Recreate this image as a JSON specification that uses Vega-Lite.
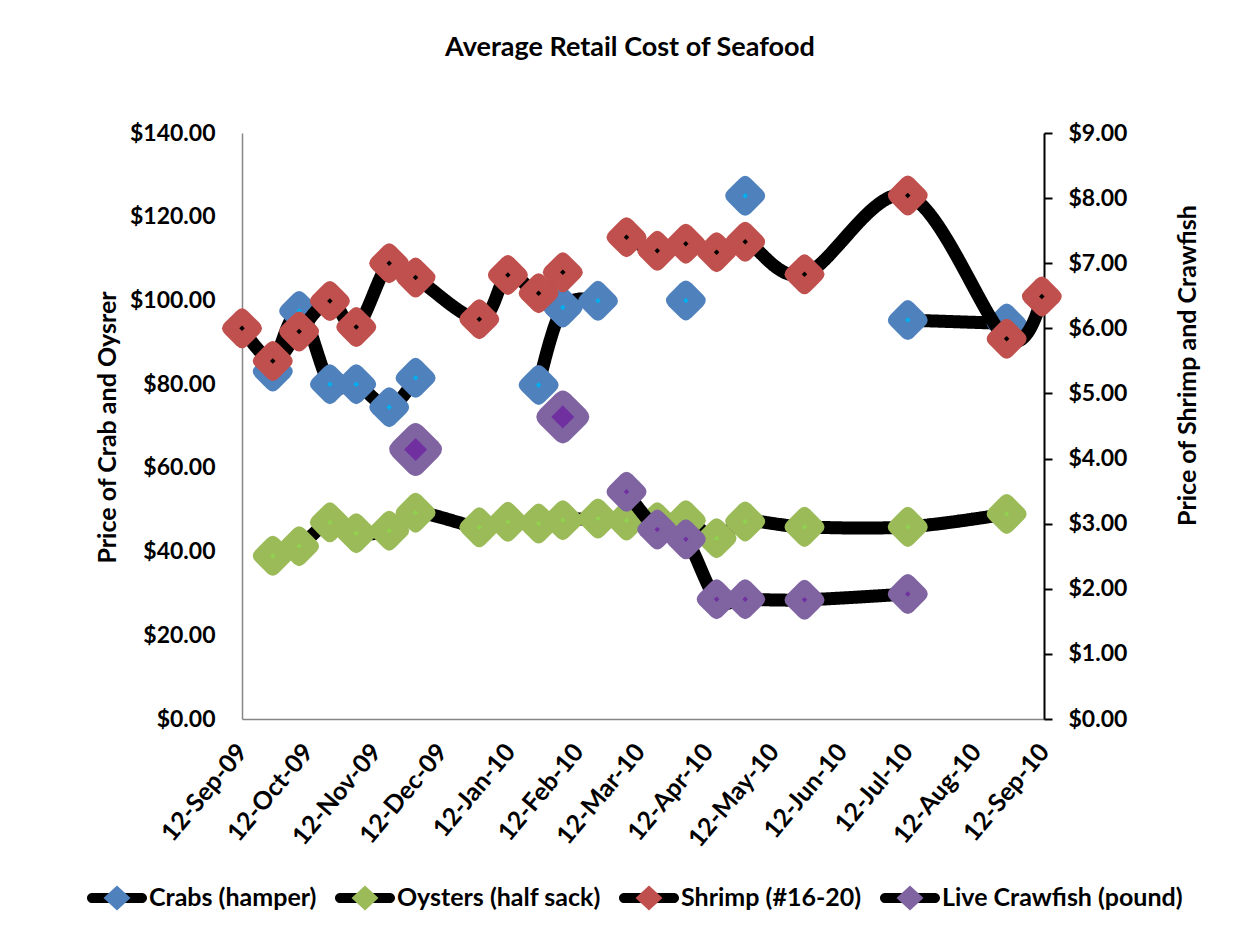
{
  "$schema": "https://vega.github.io/schema/vega-lite/v6.json",
  "width": 802,
  "height": 586,
  "autosize": {"type": "none"},
  "padding": {"left": 242, "top": 133, "right": 209, "bottom": 211},
  "background": "white",
  "config": {
    "font": "Lato",
    "view": {"stroke": null},
    "axis": {
      "grid": false,
      "labelFont": "Lato",
      "labelFontWeight": "bold",
      "labelFontSize": 23,
      "labelColor": "black",
      "titleFont": "Lato",
      "titleFontWeight": "bold",
      "titleFontSize": 25,
      "titleColor": "black"
    }
  },
  "title": {
    "text": "Average Retail Cost of Seafood",
    "font": "Lato",
    "fontSize": 27,
    "fontWeight": "bold",
    "color": "black",
    "anchor": "middle",
    "dx": -13,
    "offset": 60
  },
  "data": {
    "values": [
      {"date": "2009-09-12", "crabs": null, "oysters": null, "shrimp": 6.00, "crawfish": null},
      {"date": "2009-09-26", "crabs": 83.0, "oysters": 39.0, "shrimp": 5.50, "crawfish": null},
      {"date": "2009-10-08", "crabs": 97.5, "oysters": 41.3, "shrimp": 5.95, "crawfish": null},
      {"date": "2009-10-22", "crabs": 80.0, "oysters": 47.0, "shrimp": 6.42, "crawfish": null},
      {"date": "2009-11-03", "crabs": 80.0, "oysters": 44.4, "shrimp": 6.02, "crawfish": null},
      {"date": "2009-11-18", "crabs": 74.5, "oysters": 45.0, "shrimp": 7.00, "crawfish": null},
      {"date": "2009-11-30", "crabs": 81.5, "oysters": 49.3, "shrimp": 6.78, "crawfish": 4.14},
      {"date": "2009-12-29", "crabs": null, "oysters": 45.8, "shrimp": 6.14, "crawfish": null},
      {"date": "2010-01-11", "crabs": null, "oysters": 47.1, "shrimp": 6.82, "crawfish": null},
      {"date": "2010-01-25", "crabs": 79.8, "oysters": 46.7, "shrimp": 6.54, "crawfish": null},
      {"date": "2010-02-05", "crabs": 98.3, "oysters": 47.5, "shrimp": 6.86, "crawfish": 4.64},
      {"date": "2010-02-21", "crabs": 99.9, "oysters": 47.9, "shrimp": null, "crawfish": null},
      {"date": "2010-03-06", "crabs": null, "oysters": 47.4, "shrimp": 7.40, "crawfish": 3.49},
      {"date": "2010-03-20", "crabs": null, "oysters": 47.0, "shrimp": 7.19, "crawfish": 2.91},
      {"date": "2010-04-02", "crabs": 100.0, "oysters": 47.5, "shrimp": 7.30, "crawfish": 2.76},
      {"date": "2010-04-16", "crabs": null, "oysters": 43.2, "shrimp": 7.17, "crawfish": 1.84},
      {"date": "2010-04-29", "crabs": 125.0, "oysters": 47.2, "shrimp": 7.33, "crawfish": 1.84},
      {"date": "2010-05-26", "crabs": null, "oysters": 45.9, "shrimp": 6.83, "crawfish": 1.83},
      {"date": "2010-07-12", "crabs": 95.3, "oysters": 45.9, "shrimp": 8.04, "crawfish": 1.92},
      {"date": "2010-08-26", "crabs": 94.5, "oysters": 49.0, "shrimp": 5.84, "crawfish": null},
      {"date": "2010-09-11", "crabs": null, "oysters": null, "shrimp": 6.49, "crawfish": null}
    ]
  },
  "encoding": {
    "x": {
      "field": "date",
      "type": "temporal",
      "scale": {
        "type": "utc",
        "domain": [
          {"year": 2009, "month": 9, "date": 12, "utc": true},
          {"year": 2010, "month": 9, "date": 12, "utc": true}
        ]
      },
      "axis": {
        "title": null,
        "format": "%d-%b-%y",
        "values": [
          {"year": 2009, "month": 9, "date": 12, "utc": true},
          {"year": 2009, "month": 10, "date": 12, "utc": true},
          {"year": 2009, "month": 11, "date": 12, "utc": true},
          {"year": 2009, "month": 12, "date": 12, "utc": true},
          {"year": 2010, "month": 1, "date": 12, "utc": true},
          {"year": 2010, "month": 2, "date": 12, "utc": true},
          {"year": 2010, "month": 3, "date": 12, "utc": true},
          {"year": 2010, "month": 4, "date": 12, "utc": true},
          {"year": 2010, "month": 5, "date": 12, "utc": true},
          {"year": 2010, "month": 6, "date": 12, "utc": true},
          {"year": 2010, "month": 7, "date": 12, "utc": true},
          {"year": 2010, "month": 8, "date": 12, "utc": true},
          {"year": 2010, "month": 9, "date": 12, "utc": true}
        ],
        "labelAngle": -50,
        "labelAlign": "right",
        "labelBaseline": "middle",
        "labelPadding": 28,
        "labelFontSize": 25,
        "labelOverlap": false,
        "labelFlush": false,
        "labelBound": false,
        "ticks": false,
        "domainColor": "#868686",
        "domainWidth": 1.5
      }
    }
  },
  "layer": [
    {
      "transform": [{"fold": ["crabs", "oysters"], "as": ["series", "price"]}],
      "encoding": {
        "y": {
          "field": "price",
          "type": "quantitative",
          "scale": {"domain": [0, 140], "nice": false, "zero": true},
          "axis": {
            "orient": "left",
            "title": "Price of Crab and Oysrer",
            "titleX": -135,
            "titleY": 294,
            "titleAngle": -90,
            "titleAlign": "center",
            "titleBaseline": "middle",
            "values": [0, 20, 40, 60, 80, 100, 120, 140],
            "format": "$,.2f",
            "ticks": false,
            "labelPadding": 27,
            "domainColor": "#868686",
            "domainWidth": 1.5
          }
        }
      },
      "layer": [
        {
          "mark": {"type": "line", "color": "black", "strokeWidth": 13, "interpolate": "cardinal", "strokeCap": "round", "strokeJoin": "round", "invalid": "break-paths-filter-domains"},
          "encoding": {
            "strokeDash": {
              "field": "series",
              "type": "nominal",
              "scale": {"domain": ["crabs", "crawfish", "oysters", "shrimp"], "range": [[1, 0], [1, 0], [1, 0], [1, 0]]},
              "legend": {
                "orient": "none",
                "legendX": -155,
                "legendY": 735,
                "zindex": 1,
                "values": ["crabs", "oysters", "shrimp", "crawfish"],
                "direction": "horizontal",
                "columns": 4,
                "title": null,
                "symbolType": "M-0.83,-0.17L0.83,-0.17A0.17,0.17 0 0 1 0.83,0.17L-0.83,0.17A0.17,0.17 0 0 1 -0.83,-0.17ZM0,-0.42L0,-0.42M0,0.42L0,0.42",
                "symbolSize": 3600,
                "symbolStrokeWidth": 0,
                "symbolStrokeColor": "transparent",
                "symbolFillColor": "black",
                "labelFont": "Lato",
                "labelFontSize": 25,
                "labelFontWeight": "bold",
                "labelColor": "black",
                "labelLimit": 0,
                "labelOffset": 2,
                "columnPadding": 18,
                "labelExpr": "datum.label == 'crabs' ? 'Crabs (hamper)' : datum.label == 'oysters' ? 'Oysters (half sack)' : datum.label == 'shrimp' ? 'Shrimp (#16-20)' : 'Live Crawfish (pound)'"
              }
            }
          }
        },
        {
          "mark": {"type": "point", "filled": true, "opacity": 1, "invalid": "filter", "shape": "M-0.25,-0.75Q0,-1 0.25,-0.75L0.75,-0.25Q1,0 0.75,0.25L0.25,0.75Q0,1 -0.25,0.75L-0.75,0.25Q-1,0 -0.75,-0.25Z", "size": 2090},
          "encoding": {
            "color": {
              "field": "series",
              "type": "nominal",
              "scale": {"domain": ["crabs", "oysters", "shrimp", "crawfish"], "range": ["#4F81BD", "#9BBB59", "#C0504D", "#8064A2"]},
              "legend": {
                "orient": "none",
                "legendX": -155,
                "legendY": 735,
                "zindex": 2,
                "values": ["crabs", "oysters", "shrimp", "crawfish"],
                "direction": "horizontal",
                "columns": 4,
                "title": null,
                "symbolType": "M-1,0L-1,0M1,0L1,0M0,-0.42L0.45,0L0,0.42L-0.45,0Z",
                "symbolSize": 3600,
                "symbolStrokeWidth": 0,
                "symbolStrokeColor": "transparent",
                "labelFont": "Lato",
                "labelFontSize": 25,
                "labelFontWeight": "bold",
                "labelColor": "rgba(0,0,0,0)",
                "labelLimit": 0,
                "labelOffset": 2,
                "columnPadding": 18,
                "labelExpr": "datum.label == 'crabs' ? 'Crabs (hamper)' : datum.label == 'oysters' ? 'Oysters (half sack)' : datum.label == 'shrimp' ? 'Shrimp (#16-20)' : 'Live Crawfish (pound)'"
              }
            }
          }
        },
        {
          "mark": {"type": "point", "filled": true, "opacity": 1, "invalid": "filter", "shape": "diamond", "size": 30},
          "encoding": {
            "fill": {
              "field": "series",
              "type": "nominal",
              "scale": {"domain": ["crabs", "oysters", "shrimp", "crawfish"], "range": ["#00B0F0", "#92D050", "#000000", "#7030A0"]},
              "legend": null
            }
          }
        }
      ]
    },
    {
      "transform": [{"fold": ["shrimp", "crawfish"], "as": ["series", "price"]}],
      "encoding": {
        "y": {
          "field": "price",
          "type": "quantitative",
          "scale": {"domain": [0, 9], "nice": false, "zero": true},
          "axis": {
            "orient": "right",
            "title": "Price of Shrimp and Crawfish",
            "titleX": 143,
            "titleY": 232,
            "titleAngle": -90,
            "titleAlign": "center",
            "titleBaseline": "middle",
            "values": [0, 1, 2, 3, 4, 5, 6, 7, 8, 9],
            "format": "$.2f",
            "ticks": true,
            "tickSize": 8,
            "tickWidth": 2,
            "tickColor": "black",
            "labelPadding": 16,
            "labelAlign": "left",
            "domainColor": "black",
            "domainWidth": 2
          }
        }
      },
      "layer": [
        {
          "mark": {"type": "line", "color": "black", "strokeWidth": 13, "interpolate": "cardinal", "strokeCap": "round", "strokeJoin": "round", "invalid": "break-paths-filter-domains"},
          "encoding": {
            "strokeDash": {
              "field": "series",
              "type": "nominal",
              "scale": {"domain": ["crabs", "crawfish", "oysters", "shrimp"], "range": [[1, 0], [1, 0], [1, 0], [1, 0]]}
            }
          }
        },
        {
          "mark": {"type": "point", "filled": true, "opacity": 1, "invalid": "filter", "shape": "M-0.25,-0.75Q0,-1 0.25,-0.75L0.75,-0.25Q1,0 0.75,0.25L0.25,0.75Q0,1 -0.25,0.75L-0.75,0.25Q-1,0 -0.75,-0.25Z"},
          "encoding": {
            "color": {
              "field": "series",
              "type": "nominal",
              "scale": {"domain": ["crabs", "oysters", "shrimp", "crawfish"], "range": ["#4F81BD", "#9BBB59", "#C0504D", "#8064A2"]}
            },
            "size": {
              "condition": {"test": "datum.series == 'crawfish' && (utcmonth(datum.date) == 10 || utcmonth(datum.date) == 1)", "value": 3670},
              "value": 2090
            }
          }
        },
        {
          "mark": {"type": "point", "filled": true, "opacity": 1, "invalid": "filter", "shape": "diamond"},
          "encoding": {
            "fill": {
              "field": "series",
              "type": "nominal",
              "scale": {"domain": ["crabs", "oysters", "shrimp", "crawfish"], "range": ["#00B0F0", "#92D050", "#000000", "#7030A0"]},
              "legend": null
            },
            "size": {
              "condition": {"test": "datum.series == 'crawfish' && (utcmonth(datum.date) == 10 || utcmonth(datum.date) == 1)", "value": 530},
              "value": 30
            }
          }
        }
      ]
    }
  ],
  "resolve": {"scale": {"y": "independent"}}
}
